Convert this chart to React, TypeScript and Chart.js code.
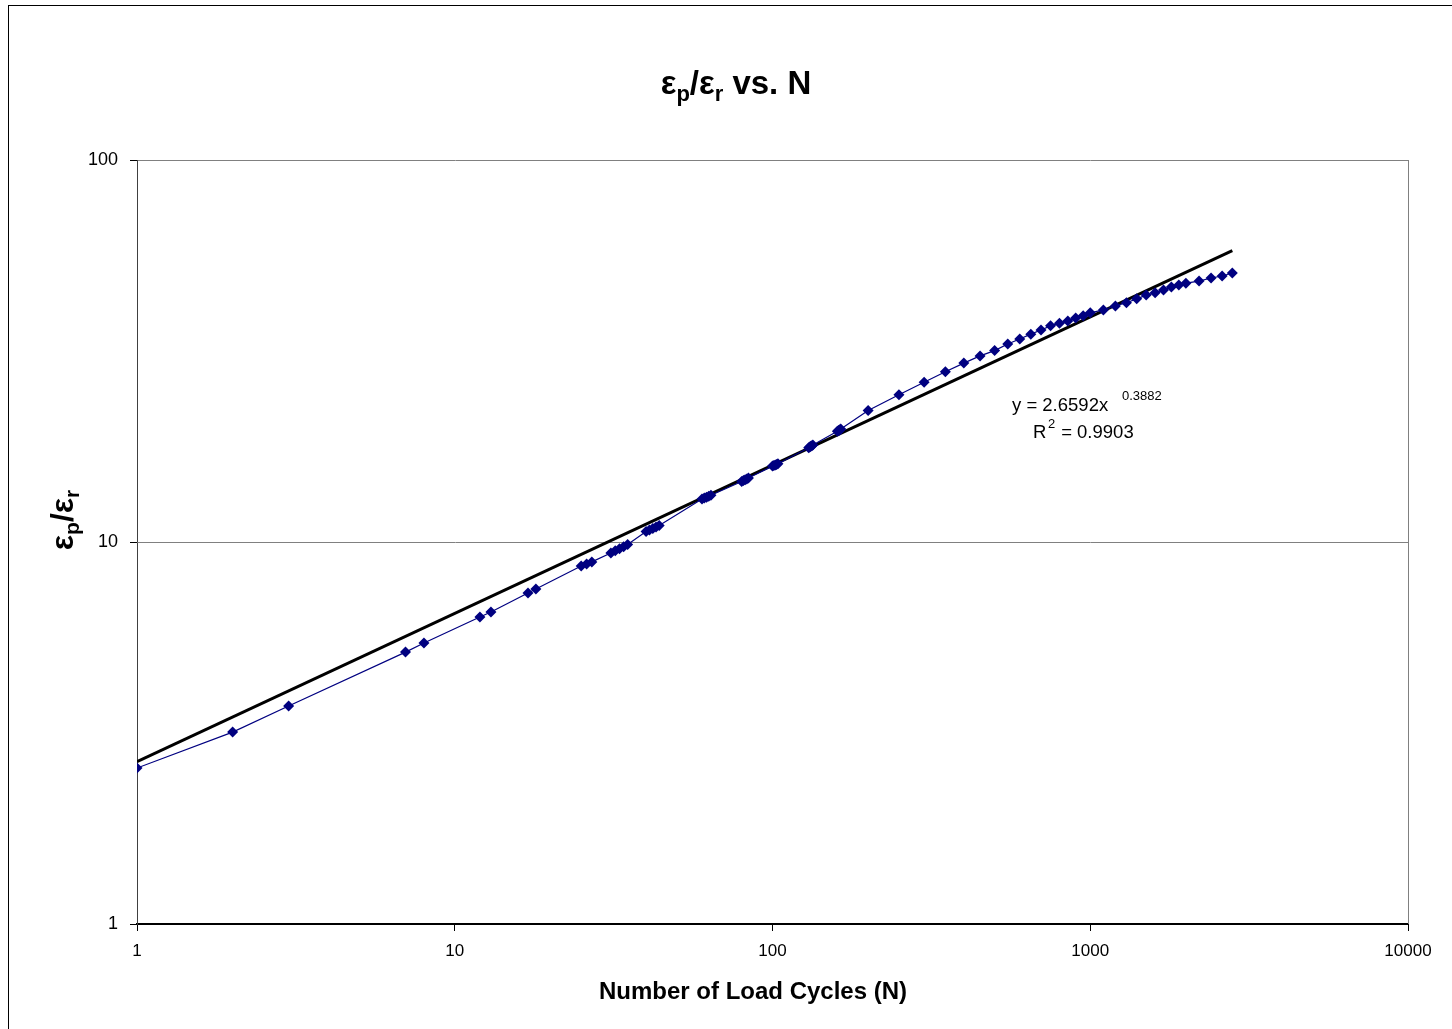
import React, { useEffect, useRef } from "react";
import { Chart, registerables } from "chart.js";
Chart.register(...registerables);

const cycles = [1, 2, 3, 7, 8, 12, 13, 17, 18, 25, 26, 27, 31, 32, 33, 34, 35, 40, 41, 42, 43, 44, 60, 61, 62, 63, 64, 80, 81, 82, 83, 84, 100, 101, 102, 103, 104, 130, 131, 132, 133, 134, 160, 161, 162, 163, 164, 200, 250, 300, 350, 400, 450, 500, 550, 600, 650, 700, 750, 800, 850, 900, 950, 1000, 1100, 1200, 1300, 1400, 1500, 1600, 1700, 1800, 1900, 2000, 2200, 2400, 2600, 2800];
const strainRatio = [2.56, 3.18, 3.72, 5.15, 5.44, 6.36, 6.56, 7.35, 7.53, 8.65, 8.76, 8.87, 9.36, 9.48, 9.6, 9.72, 9.85, 10.65, 10.75, 10.85, 10.95, 11.05, 12.95, 13.03, 13.1, 13.18, 13.26, 14.4, 14.48, 14.55, 14.62, 14.7, 15.8, 15.85, 15.9, 15.96, 16.02, 17.65, 17.72, 17.8, 17.87, 17.95, 19.5, 19.56, 19.62, 19.68, 19.75, 22.1, 24.3, 26.2, 27.9, 29.4, 30.7, 31.7, 33.0, 34.0, 35.0, 35.9, 36.8, 37.4, 37.9, 38.6, 39.1, 39.8, 40.5, 41.5, 42.3, 43.3, 44.3, 44.9, 45.7, 46.5, 47.1, 47.6, 48.2, 49.1, 49.7, 50.6];
const trendCycles = [1, 2800];
const trendRatio = [2.6592, 57.9];
const xTickValues = [1, 10, 100, 1000, 10000];
const yTickValues = [1, 10, 100];

const FONT = '"Liberation Sans", Arial, sans-serif';

type Seg = { t: string; size: number; dy: number };

function drawSegs(ctx: CanvasRenderingContext2D, segs: Seg[], x: number, y: number, bold: boolean, align: "left" | "center") {
  const w = segs.reduce((acc, s) => {
    ctx.font = `${bold ? "bold " : ""}${s.size}px ${FONT}`;
    return acc + ctx.measureText(s.t).width;
  }, 0);
  let cx = align === "center" ? x - w / 2 : x;
  ctx.textBaseline = "alphabetic";
  ctx.textAlign = "left";
  for (const s of segs) {
    ctx.font = `${bold ? "bold " : ""}${s.size}px ${FONT}`;
    ctx.fillText(s.t, cx, y + s.dy);
    cx += ctx.measureText(s.t).width;
  }
}

const textPlugin = {
  id: "texts",
  afterDraw(chart: any) {
    const ctx: CanvasRenderingContext2D = chart.ctx;
    const a = chart.chartArea;
    ctx.save();
    ctx.strokeStyle = "#808080";
    ctx.lineWidth = 1;
    ctx.beginPath();
    ctx.moveTo(Math.round(a.right) + 0.5, a.top);
    ctx.lineTo(Math.round(a.right) + 0.5, a.bottom);
    ctx.stroke();
    ctx.strokeStyle = "#000";
    ctx.strokeRect(8.5, 5.5, 1460, 1040);
    ctx.fillStyle = "#000";
    drawSegs(
      ctx,
      [
        { t: "ε", size: 33, dy: 0 },
        { t: "p", size: 22, dy: 7 },
        { t: "/ε", size: 33, dy: 0 },
        { t: "r", size: 22, dy: 7 },
        { t: " vs. N", size: 33, dy: 0 },
      ],
      736,
      94,
      true,
      "center"
    );
    drawSegs(ctx, [{ t: "Number of Load Cycles (N)", size: 24, dy: 0 }], 753, 999, true, "center");
    ctx.save();
    ctx.translate(73, 520);
    ctx.rotate(-Math.PI / 2);
    drawSegs(
      ctx,
      [
        { t: "ε", size: 32, dy: 0 },
        { t: "p", size: 21, dy: 6 },
        { t: "/ε", size: 32, dy: 0 },
        { t: "r", size: 21, dy: 6 },
      ],
      0,
      0,
      true,
      "center"
    );
    ctx.restore();
    drawSegs(ctx, [{ t: "y = 2.6592x", size: 18.5, dy: 0 }], 1012, 411, false, "left");
    drawSegs(ctx, [{ t: "0.3882", size: 13, dy: 0 }], 1122, 400, false, "left");
    drawSegs(ctx, [{ t: "R", size: 18.5, dy: 0 }], 1033, 438, false, "left");
    drawSegs(ctx, [{ t: "2", size: 13, dy: 0 }], 1048, 428, false, "left");
    drawSegs(ctx, [{ t: " = 0.9903", size: 18.5, dy: 0 }], 1056, 438, false, "left");
    ctx.restore();
  },
};

export default function App() {
  const ref = useRef<HTMLCanvasElement | null>(null);
  useEffect(() => {
    if (!ref.current) return;
    const data = cycles.map((c, i) => ({ x: c, y: strainRatio[i] }));
    const trend = trendCycles.map((c, i) => ({ x: c, y: trendRatio[i] }));
    const chart = new Chart(ref.current, {
      type: "scatter",
      data: {
        datasets: [
          {
            label: "trend",
            data: trend,
            showLine: true,
            borderColor: "#000",
            borderWidth: 3,
            pointRadius: 0,
            order: 2,
          },
          {
            label: "data",
            data,
            showLine: true,
            borderColor: "#000080",
            backgroundColor: "#000080",
            borderWidth: 1.2,
            pointStyle: "rectRot",
            pointRadius: 5.5,
            pointBorderWidth: 0,
            order: 1,
          },
        ],
      },
      options: {
        responsive: false,
        animation: false,
        devicePixelRatio: 1,
        layout: { padding: { left: 0, top: 160, right: 44, bottom: 0 } },
        plugins: { legend: { display: false }, title: { display: false }, tooltip: { enabled: false } },
        scales: {
          x: {
            type: "logarithmic",
            min: 1,
            max: 10000,
            afterBuildTicks: (s: any) => {
              s.ticks = xTickValues.map((v) => ({ value: v }));
            },
            afterFit: (s: any) => {
              s.height = 105;
            },
            ticks: {
              callback: (v: any) => String(v),
              font: { family: FONT, size: 17 },
              color: "#000",
              padding: 10,
              maxRotation: 0,
              autoSkip: false,
            },
            grid: { drawOnChartArea: false, drawTicks: true, tickLength: 7, tickColor: "#000" },
            border: { display: true, color: "#000", width: 2 },
          },
          y: {
            type: "logarithmic",
            min: 1,
            max: 100,
            afterBuildTicks: (s: any) => {
              s.ticks = yTickValues.map((v) => ({ value: v }));
            },
            afterFit: (s: any) => {
              s.width = 137;
            },
            ticks: {
              callback: (v: any) => String(v),
              font: { family: FONT, size: 18 },
              color: "#000",
              padding: 12,
              autoSkip: false,
            },
            grid: { drawOnChartArea: true, color: "#808080", drawTicks: true, tickLength: 7, tickColor: "#000" },
            border: { display: true, color: "#404040", width: 1 },
          },
        },
      },
      plugins: [textPlugin],
    } as any);
    return () => chart.destroy();
  }, []);
  return (
    <div style={{ position: "absolute", left: 0, top: 0, width: 1452, height: 1029, background: "#fff" }}>
      <canvas ref={ref} width={1452} height={1029} style={{ display: "block" }} />
    </div>
  );
}
